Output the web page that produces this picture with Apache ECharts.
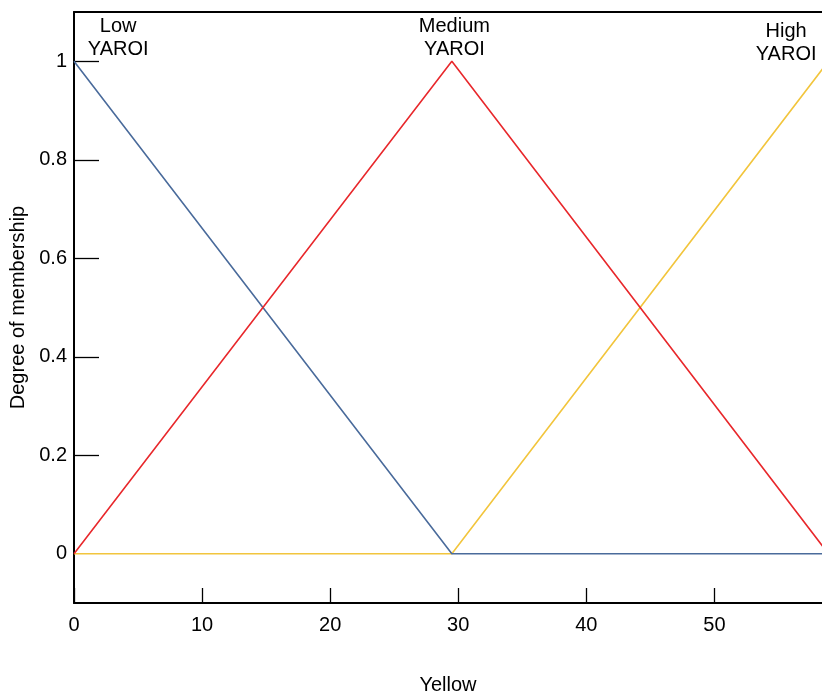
<!DOCTYPE html>
<html>
<head>
<meta charset="utf-8">
<script src="https://cdn.jsdelivr.net/npm/echarts@6/dist/echarts.min.js"></script>
<style>html,body{margin:0;padding:0;background:#fff}#c{width:822px;height:700px}</style>
</head>
<body>
<div id="c"></div>
<script>
const xTicks = [0, 10, 20, 30, 40, 50];
const yTicks = [0, 0.2, 0.4, 0.6, 0.8, 1];
const yTickMarks = [0.2, 0.4, 0.6, 0.8, 1];
const lowX = [0, 29.5, 58.9];
const lowY = [1, 0, 0];
const mediumX = [0, 29.5, 58.9];
const mediumY = [0, 1, 0];
const highX = [0, 29.5, 58.9];
const highY = [0, 0, 1];
const labelNames = ['Low\nYAROI', 'Medium\nYAROI', 'High\nYAROI'];
const labelX = [3.45, 29.7, 55.6];
const labelY = [1.047, 1.047, 1.037];

const zip = (xs, ys) => xs.map((x, i) => [x, ys[i]]);
const font = 'Liberation Sans, Arial, sans-serif';
const chart = echarts.init(document.getElementById('c'), null, {renderer: 'canvas'});
chart.setOption({
  animation: false,
  backgroundColor: '#fff',
  grid: {left: 74, right: 0, top: 12, bottom: 88},
  xAxis: [{
    type: 'value', min: 0, max: 58.4,
    name: 'Yellow', nameLocation: 'middle', nameGap: 72,
    nameTextStyle: {fontFamily: font, fontSize: 20, color: '#000'},
    axisLine: {show: true, onZero: false, lineStyle: {color: '#000', width: 2}},
    axisTick: {show: true, inside: true, length: 15, lineStyle: {color: '#000', width: 1.3},
      customValues: xTicks},
    axisLabel: {fontFamily: font, fontSize: 20, color: '#000', margin: 12,
      customValues: xTicks},
    splitLine: {show: false}
  }, {
    type: 'value', min: 0, max: 58.4, position: 'top',
    axisLine: {show: true, onZero: false, lineStyle: {color: '#000', width: 2}},
    axisTick: {show: false}, axisLabel: {show: false}, splitLine: {show: false}
  }],
  yAxis: {
    type: 'value', min: -0.1, max: 1.1,
    name: 'Degree of membership', nameLocation: 'middle', nameGap: 46,
    nameTextStyle: {fontFamily: font, fontSize: 20, color: '#000'},
    axisLine: {show: true, onZero: false, lineStyle: {color: '#000', width: 2}},
    axisTick: {show: true, inside: true, length: 25, lineStyle: {color: '#000', width: 1.3},
      customValues: yTickMarks},
    axisLabel: {fontFamily: font, fontSize: 20, color: '#000', margin: 7,
      customValues: yTicks, formatter: v => String(Math.round(v * 10) / 10)},
    splitLine: {show: false}
  },
  series: [
    {type: 'line', name: 'High', data: zip(highX, highY), symbol: 'none',
      lineStyle: {color: '#f2c53d', width: 1.6}, z: 2},
    {type: 'line', name: 'Low', data: zip(lowX, lowY), symbol: 'none',
      lineStyle: {color: '#4a6b9b', width: 1.6}, z: 3},
    {type: 'line', name: 'Medium', data: zip(mediumX, mediumY), symbol: 'none',
      lineStyle: {color: '#e8282c', width: 1.6}, z: 4},
    {type: 'scatter', data: labelNames.map((n, i) => ({value: [labelX[i], labelY[i]], name: n})),
      symbolSize: 0, silent: true, z: 5,
      itemStyle: {color: '#000', opacity: 1},
      label: {show: true, position: 'inside', formatter: p => p.name,
        fontFamily: font, fontSize: 20, color: '#000', textBorderWidth: 0, opacity: 1,
        lineHeight: 23, align: 'center'}}
  ]
});
</script>
</body>
</html>
